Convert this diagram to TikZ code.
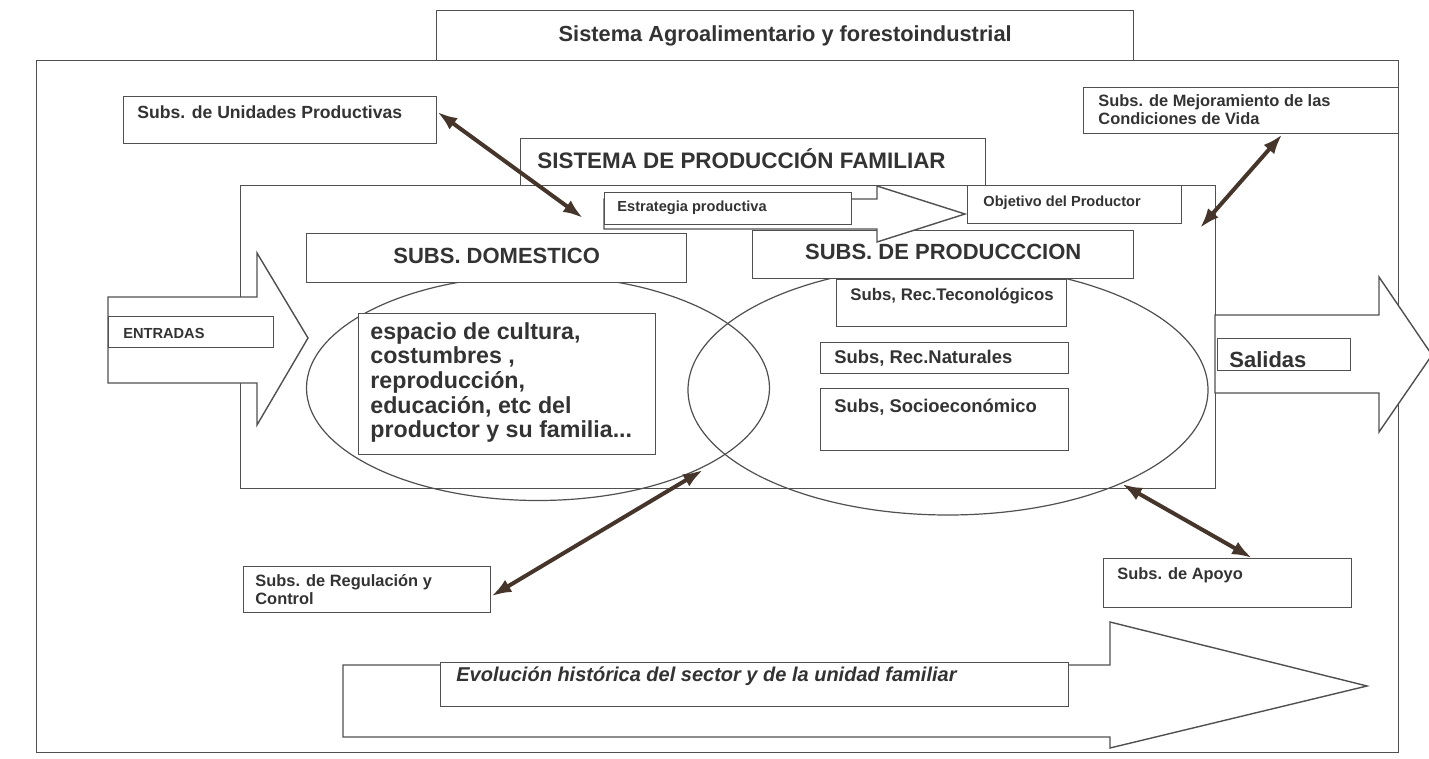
\documentclass[tikz,border=0pt]{standalone}
\usepackage{fontspec}
\setmainfont{Liberation Sans}
\usetikzlibrary{positioning, shapes.geometric, arrows.meta, calc}

\definecolor{inkline}{HTML}{505050}
\definecolor{inktext}{HTML}{333333}
\definecolor{linkbrown}{HTML}{45352B}

\tikzstyle{frame}=[draw=inkline, line width=0.7pt, rectangle, inner sep=0pt, anchor=north west, fill=white, text=inktext]
\tikzstyle{boxText}=[inner sep=0pt, anchor=west, text=inktext, align=left]
\tikzstyle{tinyText}=[font=\fontsize{7.3}{8.5}\selectfont\bfseries]
\tikzstyle{smallText}=[font=\fontsize{8.2}{9}\selectfont\bfseries]
\tikzstyle{midText}=[font=\fontsize{9.2}{11}\selectfont\bfseries]
\tikzstyle{bigText}=[font=\fontsize{11}{13}\selectfont\bfseries]
\tikzstyle{ring}=[ellipse, draw=inkline, line width=0.6pt, inner sep=0pt]
\tikzstyle{bigArrow}=[draw=inkline, line width=0.7pt, fill=white, line join=miter]
\tikzstyle{link}=[{Latex[length=10pt,width=7pt]}-{Latex[length=10pt,width=7pt]}, line width=2pt, draw=linkbrown]

\begin{document}
\begin{tikzpicture}[x=0.5pt, y=-0.5pt]
        \useasboundingbox (0,0) rectangle (1429,759);

        % outer system
        \node[frame, minimum width=681pt, minimum height=346pt] (outer) at (36,60) {};
        \node[frame, font=\fontsize{10.9}{13}\selectfont\bfseries, minimum width=348.5pt, minimum height=25pt] (agro) at (436,10) {Sistema Agroalimentario y forestoindustrial};

        \node[frame, minimum width=157.5pt, minimum height=23pt] (mejora) at (1083,87) {};
        \node[boxText, smallText, anchor=north west] (mejoratxt) at (1098,94) {Subs. de Mejoramiento de las\\Condiciones de Vida};

        \node[frame, minimum width=156.5pt, minimum height=23.5pt] (unid) at (123,96) {};
        \node[boxText, font=\fontsize{8.8}{10}\selectfont\bfseries] (unidtxt) at (137,112) {Subs. de Unidades Productivas};

        % production system
        \node[frame, minimum width=487.5pt, minimum height=151.5pt] (inner) at (240,185) {};
        \node[frame, minimum width=232.5pt, minimum height=23.5pt] (sistema) at (520,138) {};
        \node[boxText, font=\fontsize{11.2}{13}\selectfont\bfseries] (sistematxt) at (537,159) {SISTEMA DE PRODUCCIÓN FAMILIAR};

        \node[ring, minimum width=231.5pt, minimum height=112.5pt] (domRing) at (538,388) {};
        \node[ring, minimum width=260pt, minimum height=125pt] (prodRing) at (948,390) {};

        \node[frame, bigText, minimum width=190pt, minimum height=24.5pt, text depth=2pt] (domestico) at (306,233) {SUBS. DOMESTICO};
        \node[frame, bigText, minimum width=190.5pt, minimum height=24pt, text depth=3pt] (produccion) at (752,230) {SUBS. DE PRODUCCCION};

        \node[frame, minimum width=115pt, minimum height=23.5pt] (tecno) at (836,279) {};
        \node[boxText, font=\fontsize{8.4}{10}\selectfont\bfseries] (tecnotxt) at (850,296) {Subs, Rec.Teconológicos};
        \node[frame, minimum width=124pt, minimum height=15.5pt] (natur) at (820,342) {};
        \node[boxText, midText] (naturtxt) at (834,358) {Subs, Rec.Naturales};
        \node[frame, minimum width=124pt, minimum height=31pt] (socio) at (820,388) {};
        \node[boxText, midText] (sociotxt) at (834,407) {Subs, Socioeconómico};

        \node[frame, minimum width=148.5pt, minimum height=70.5pt] (espacio) at (358,313) {};
        \node[boxText, font=\fontsize{11.6}{12.3}\selectfont\bfseries, anchor=north west] (espaciotxt) at (370,322) {espacio de cultura,\\costumbres ,\\reproducción,\\educación, etc del\\productor y su familia...};

        % strategy -> objective
        \draw[bigArrow] (604,199) -- (877,199) -- (877,186) -- (965,214) -- (877,242) -- (877,229) -- (604,229) -- cycle;
        \node[frame, minimum width=123.5pt, minimum height=16pt] (estrategia) at (604,192) {};
        \node[boxText, tinyText] (estrategiatxt) at (617,208) {Estrategia productiva};
        \node[frame, minimum width=107pt, minimum height=19pt] (objetivo) at (967,185) {};
        \node[boxText, tinyText] (objetivotxt) at (983,203) {Objetivo del Productor};

        % inputs and outputs
        \draw[bigArrow] (108,297) -- (257,297) -- (257,253) -- (308,338) -- (257,425) -- (257,383) -- (108,383) -- cycle;
        \node[frame, minimum width=82.5pt, minimum height=15.5pt] (entradas) at (108,316) {};
        \node[boxText, tinyText] (entradastxt) at (123,333) {ENTRADAS};

        \draw[bigArrow] (1215,315) -- (1379,315) -- (1379,277) -- (1432,355) -- (1379,432) -- (1379,393) -- (1215,393) -- cycle;
        \node[frame, minimum width=66.5pt, minimum height=16pt] (salidas) at (1217,338) {};
        \node[boxText, bigText, anchor=base west] (salidastxt) at (1229,367) {Salidas};

        % history
        \draw[bigArrow] (343,665) -- (1110,665) -- (1110,622) -- (1367,686) -- (1110,748) -- (1110,737) -- (343,737) -- cycle;
        \node[frame, minimum width=314pt, minimum height=22pt] (evol) at (440,662) {};
        \node[boxText, font=\fontsize{10}{12}\selectfont\bfseries\itshape] (evoltxt) at (456,676) {Evolución histórica del sector y de la unidad familiar};

        \node[frame, minimum width=123.5pt, minimum height=23pt] (regul) at (243,566) {};
        \node[boxText, smallText, anchor=north west] (regultxt) at (255,574) {Subs. de Regulación y\\Control};
        \node[frame, minimum width=124pt, minimum height=24.5pt] (apoyo) at (1103,558) {};
        \node[boxText, smallText] (apoyotxt) at (1117,575) {Subs. de Apoyo};

        % links
        \coordinate (domEnd) at (583,218);
        \coordinate (innerEnd) at (1200,228);
        \coordinate (ringEnd) at (703,470);
        \coordinate (prodEnd) at (1122,484);

        \draw[link] (unid.3) -- (domEnd);
        \draw[link] (mejora.-30) -- (innerEnd);
        \draw[link] (regul.-3) -- (ringEnd);
        \draw[link] (apoyo.46) -- (prodEnd);
\end{tikzpicture}
\end{document}
